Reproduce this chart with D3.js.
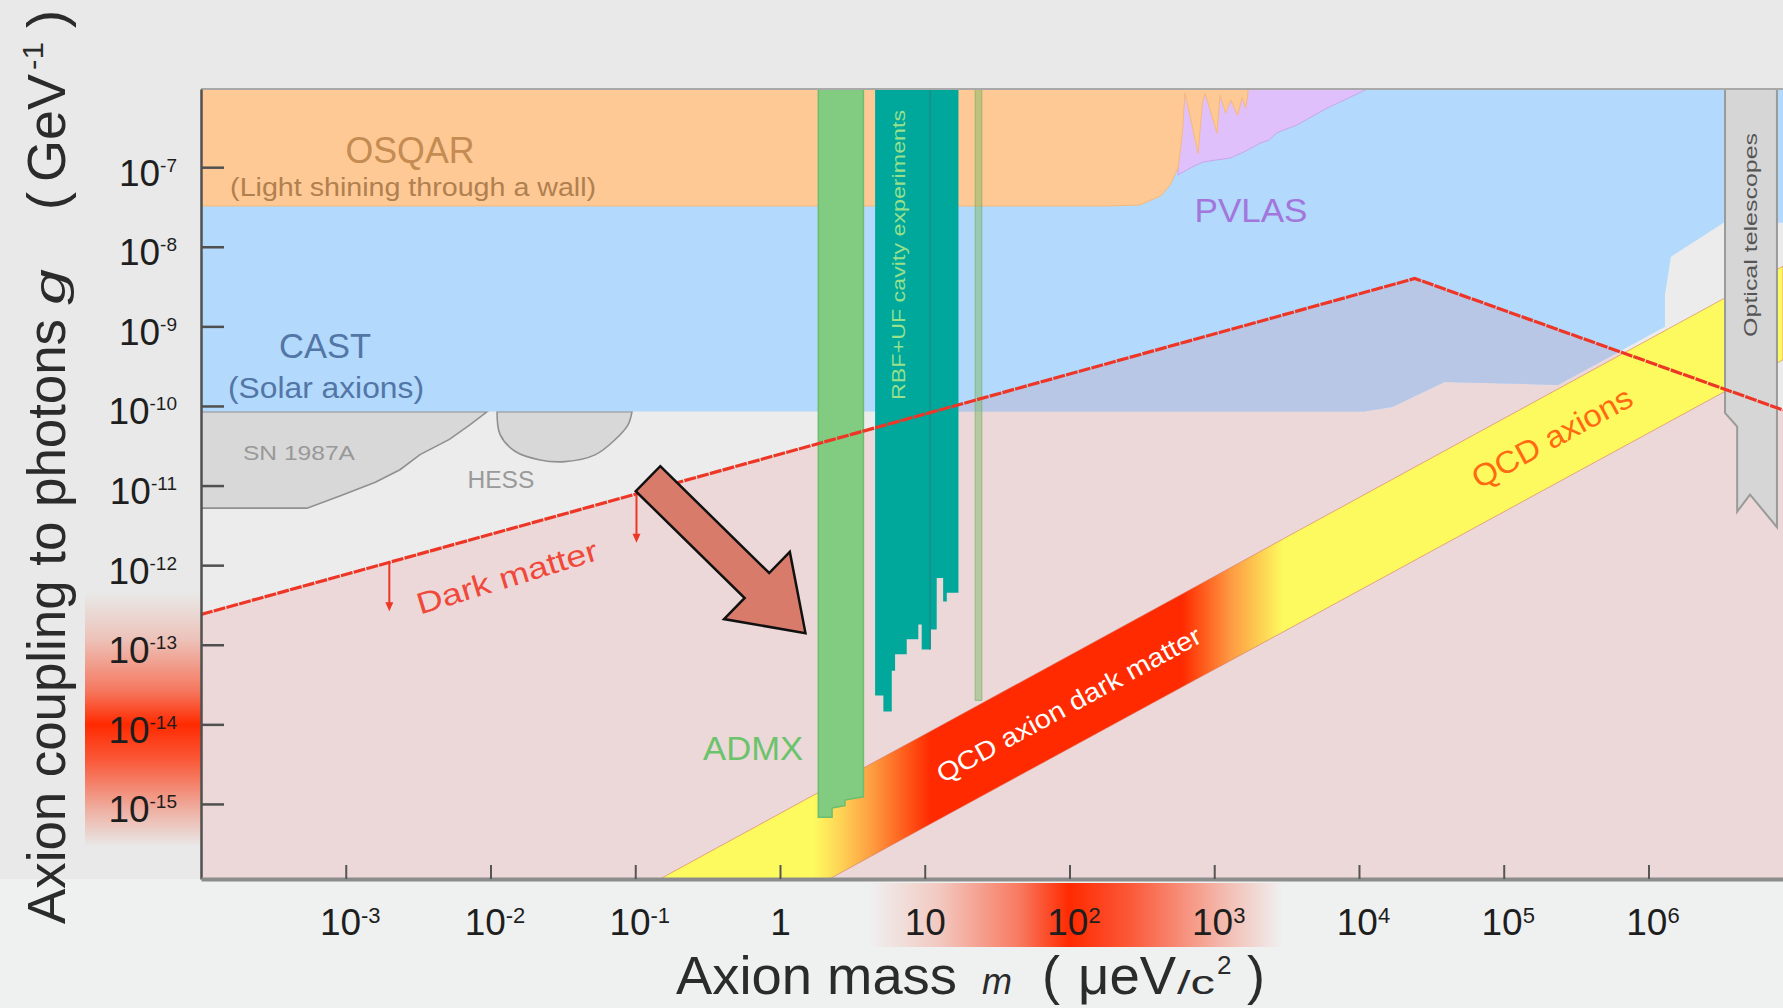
<!DOCTYPE html>
<html>
<head>
<meta charset="utf-8">
<title>Axion coupling to photons vs axion mass</title>
<script src="https://cdn.jsdelivr.net/npm/d3@7/dist/d3.min.js"></script>
<style>
  body { margin: 0; background: #e8e9e8; overflow: hidden; }
  svg { display: block; font-family: "Liberation Sans", Arial, Helvetica, sans-serif; }
</style>
</head>
<body>
<svg id="chart" width="1783" height="1008"></svg>
<script>
// ---- data (mass in ueV/c^2, coupling in GeV^-1) ----
var massDomain = [1e-4, 8.5e6];
var couplingDomain = [1.14e-16, 9.6e-7];

var massTicks = [1e-3, 1e-2, 1e-1, 1, 10, 1e2, 1e3, 1e4, 1e5, 1e6];
var massTickBase = ["10", "10", "10", "1", "10", "10", "10", "10", "10", "10"];
var massTickExp = ["-3", "-2", "-1", "", "", "2", "3", "4", "5", "6"];
var couplingTicks = [1e-7, 1e-8, 1e-9, 1e-10, 1e-11, 1e-12, 1e-13, 1e-14, 1e-15];
var couplingTickExp = ["-7", "-8", "-9", "-10", "-11", "-12", "-13", "-14", "-15"];

var darkMatterLine = [[1e-4, 2.4e-13], [2.43e4, 4.0e-9], [8.5e6, 8.9e-11]];
var darkMatterArrows = [2.0e-3, 0.102];

var osqar = [[1e-4, 1e-5], [1e-4, 3.26e-8], [190, 3.26e-8], [308, 3.36e-8], [430, 4.4e-8],
  [496, 6.0e-8], [562, 9.8e-8], [600, 2.5e-7], [628, 8.5e-7], [700, 3.5e-7], [773, 1.5e-7],
  [830, 6.5e-7], [864, 8.5e-7], [960, 4.5e-7], [1045, 2.7e-7], [1096, 8.0e-7], [1200, 4.8e-7],
  [1300, 7.0e-7], [1450, 4.5e-7], [1560, 7.5e-7], [1650, 5.5e-7], [1710, 8.5e-7], [1710, 1e-5]];
var pvlas = [[562, 1e-5], [562, 8.0e-8], [700, 1.0e-7], [837, 1.16e-7], [1000, 1.22e-7],
  [1286, 1.3e-7], [1600, 1.55e-7], [2073, 2.0e-7], [2400, 2.2e-7], [2700, 2.7e-7],
  [3735, 3.4e-7], [6000, 5.5e-7], [1.14e4, 9.6e-7], [1.14e4, 1e-5]];
var cast = [[1e-4, 1e-5], [1e7, 1e-5], [1e7, 2.0e-8], [3.3e6, 2.0e-8], [1.43e6, 7.5e-9],
  [1.3e6, 2.5e-9], [1.3e6, 9.9e-10], [2.37e5, 1.84e-10], [3.9e4, 2.0e-10], [1.7e4, 9.7e-11],
  [1.08e4, 8.5e-11], [1e-4, 8.5e-11]];
var sn1987a = [[1e-4, 8.5e-11], [1e-4, 5.2e-12], [5.4e-4, 5.2e-12], [9.1e-4, 7.4e-12],
  [1.6e-3, 1.1e-11], [2.37e-3, 1.58e-11], [3.26e-3, 2.45e-11], [5.2e-3, 3.8e-11],
  [7.2e-3, 5.8e-11], [9.5e-3, 8.5e-11]];
var hess = [[0.0111, 8.5e-11], [0.01164, 4.4e-11], [0.01477, 2.7e-11], [0.022, 2.1e-11],
  [0.0327, 2.0e-11], [0.0527, 2.43e-11], [0.0724, 3.76e-11], [0.0891, 5.8e-11], [0.095, 8.5e-11]];
var admx = [[1.84, 1e-5], [1.84, 6.8e-16], [2.29, 6.8e-16], [2.29, 8.9e-16], [2.81, 9.5e-16],
  [2.81, 1.12e-15], [3.77, 1.23e-15], [3.77, 1e-5]];
// cavity experiments: [mass from, mass to, lowest coupling reached]
var cavitySteps = [[4.54, 5.18, 2.3e-14], [5.18, 5.92, 1.45e-14], [5.92, 6.24, 4.7e-14],
  [6.24, 7.51, 7.6e-14], [7.51, 9.03, 1.17e-13], [9.03, 9.53, 1.8e-13], [9.53, 10.9, 8.7e-14],
  [10.9, 12.1, 1.55e-13], [12.1, 13.4, 6.9e-13], [13.4, 14.2, 3.5e-13], [14.2, 17.1, 4.5e-13]];
var cavitySplit = 10.9;
var cavityThin = [22.3, 24.8, 2.0e-14];
var qcdUpper = [[0.148, 1.14e-16], [8.5e6, 5.7e-9]];
var qcdLower = [[2.19, 1.14e-16], [8.5e6, 3.8e-10]];
var qcdStopMass = [1.7, 2.6, 4.2, 11, 600, 1300, 3000];
var qcdStopColor = ["#fdfa60", "#fed456", "#fda042", "#ff2a00", "#ff2a00", "#fd9a42", "#fdfa60"];
var telescopes = [[3.38e6, 1e-5], [3.38e6, 8.2e-11], [4.1e6, 5.5e-11], [4.1e6, 4.7e-12],
  [5.03e6, 7.7e-12], [7.72e6, 3.0e-12], [7.72e6, 1e-5]];
var bigArrow = [[0.1225, 1.22e-11], [1.50, 1.4e-13]];
var couplingGlow = [4.5e-13, 1e-14, 2.9e-16];
var massGlow = [4.05, 100, 2985];

// ---- scales ----
var svg = d3.select("#chart");
var pL = 201, pR = 1783, pT = 89, pB = 879;
var x = d3.scaleLog().domain(massDomain).range([pL, pR]);
var y = d3.scaleLog().domain(couplingDomain).range([pB, pT]);
var line = d3.line().x(function (d) { return x(d[0]); }).y(function (d) { return y(d[1]); });
function area(pts) { return line(pts) + "Z"; }

function dmAt(m) {
  var a = darkMatterLine[0], b = darkMatterLine[1];
  if (m > b[0]) { a = darkMatterLine[1]; b = darkMatterLine[2]; }
  var t = Math.log(m / a[0]) / Math.log(b[0] / a[0]);
  return Math.exp(Math.log(a[1]) + t * Math.log(b[1] / a[1]));
}

var defs = svg.append("defs");
defs.append("clipPath").attr("id", "plotClip").append("rect")
  .attr("x", pL).attr("y", pT).attr("width", pR - pL).attr("height", pB - pT);
var dmRegion = darkMatterLine.concat([[massDomain[1] * 2, 1e-18], [1e-5, 1e-18]]);
defs.append("clipPath").attr("id", "dmClip").append("path").attr("d", area(dmRegion));

// band gradient
var gx0 = x(qcdStopMass[0]), gx1 = x(qcdStopMass[qcdStopMass.length - 1]);
var qcdGrad = defs.append("linearGradient").attr("id", "qcdGrad")
  .attr("gradientUnits", "userSpaceOnUse")
  .attr("x1", gx0).attr("x2", gx1).attr("y1", 0).attr("y2", 0);
qcdStopMass.forEach(function (m, i) {
  qcdGrad.append("stop").attr("offset", (x(m) - gx0) / (gx1 - gx0)).attr("stop-color", qcdStopColor[i]);
});

function glowGradient(id, p0, peak, p1, vertical) {
  var g = defs.append("linearGradient").attr("id", id).attr("gradientUnits", "userSpaceOnUse");
  if (vertical) g.attr("x1", 0).attr("x2", 0).attr("y1", p0).attr("y2", p1);
  else g.attr("y1", 0).attr("y2", 0).attr("x1", p0).attr("x2", p1);
  var pk = (peak - p0) / (p1 - p0);
  [[0, 0], [pk * 0.35, 0.2], [pk * 0.75, 0.6], [pk, 1], [pk + (1 - pk) * 0.3, 0.75],
    [pk + (1 - pk) * 0.7, 0.3], [1, 0]].forEach(function (s) {
    g.append("stop").attr("offset", s[0]).attr("stop-color", "#ff2a00").attr("stop-opacity", s[1]);
  });
}
glowGradient("yGlow", y(couplingGlow[0]), y(couplingGlow[1]), y(couplingGlow[2]), true);
glowGradient("xGlow", x(massGlow[0]), x(massGlow[1]), x(massGlow[2]), false);

// ---- background ----
svg.append("rect").attr("width", 1783).attr("height", 1008).attr("fill", "#e8e9e8");
svg.append("rect").attr("y", pB).attr("width", 1783).attr("height", 1008 - pB).attr("fill", "#eff1f1");
svg.append("rect").attr("x", 85).attr("y", y(couplingGlow[0])).attr("width", pL - 85)
  .attr("height", y(couplingGlow[2]) - y(couplingGlow[0])).attr("fill", "url(#yGlow)");
svg.append("rect").attr("x", x(massGlow[0])).attr("y", pB + 4)
  .attr("width", x(massGlow[2]) - x(massGlow[0])).attr("height", 64).attr("fill", "url(#xGlow)");

// ---- regions ----
var plot = svg.append("g").attr("clip-path", "url(#plotClip)");
plot.append("rect").attr("x", pL).attr("y", pT).attr("width", pR - pL)
  .attr("height", pB - pT).attr("fill", "#ebeceb");
plot.append("path").attr("d", area(dmRegion)).attr("fill", "#ecd8d8");
plot.append("path").attr("d", area(sn1987a)).attr("fill", "#d8d8d8")
  .attr("stroke", "#909090").attr("stroke-width", 1.6);
plot.append("path").attr("d", d3.line().curve(d3.curveCatmullRom)
    .x(function (d) { return x(d[0]); }).y(function (d) { return y(d[1]); })(hess) + "Z")
  .attr("fill", "#d8d8d8").attr("stroke", "#909090").attr("stroke-width", 1.6);
plot.append("path").attr("d", area(cast)).attr("fill", "#b3d9fc");
plot.append("g").attr("clip-path", "url(#dmClip)")
  .append("path").attr("d", area(cast)).attr("fill", "#b9c7e6");
plot.append("path").attr("d", area(pvlas)).attr("fill", "#dfc0fb")
  .attr("stroke", "#c9a6ee").attr("stroke-width", 1);
plot.append("path").attr("d", area(osqar)).attr("fill", "#fec995")
  .attr("stroke", "#f8b878").attr("stroke-width", 1);

// QCD band
plot.append("path")
  .attr("d", area([qcdUpper[0], qcdUpper[1], qcdLower[1], qcdLower[0]]))
  .attr("fill", "url(#qcdGrad)").attr("stroke", "rgba(215,110,90,0.55)").attr("stroke-width", 1);

// haloscopes
plot.append("path").attr("d", area(admx)).attr("fill", "#82cc82")
  .attr("stroke", "#6cbd6c").attr("stroke-width", 1.5);
var cavity = [[cavitySteps[0][0], 1e-5]];
cavitySteps.forEach(function (s) { cavity.push([s[0], s[2]], [s[1], s[2]]); });
cavity.push([cavitySteps[cavitySteps.length - 1][1], 1e-5]);
plot.append("path").attr("d", area(cavity)).attr("fill", "#00a89b");
plot.append("line").attr("x1", x(cavitySplit)).attr("x2", x(cavitySplit))
  .attr("y1", pT).attr("y2", y(cavitySteps[6][2])).attr("stroke", "#1d8d86").attr("stroke-width", 1.5);
plot.append("rect").attr("x", x(cavityThin[0])).attr("y", pT)
  .attr("width", x(cavityThin[1]) - x(cavityThin[0])).attr("height", y(cavityThin[2]) - pT)
  .attr("fill", "rgba(120,185,95,0.45)").attr("stroke", "rgba(110,170,90,0.6)").attr("stroke-width", 1);

// optical telescopes strip
plot.append("path").attr("d", area(telescopes)).attr("fill", "#d6d6d6")
  .attr("stroke", "#9a9a9a").attr("stroke-width", 2);

// dark matter line + arrows
plot.append("path").attr("d", line(darkMatterLine)).attr("fill", "none")
  .attr("stroke", "#ee3626").attr("stroke-width", 3.2).attr("stroke-dasharray", "12,1.2");
darkMatterArrows.forEach(function (m) {
  var ax = x(m), a0 = y(dmAt(m)), a1 = y(dmAt(m) / 4);
  plot.append("line").attr("x1", ax).attr("x2", ax).attr("y1", a0).attr("y2", a1 - 6)
    .attr("stroke", "#ee3626").attr("stroke-width", 2);
  plot.append("path").attr("d", "M" + (ax - 4) + "," + (a1 - 8) + "L" + (ax + 4) + "," + (a1 - 8) + "L" + ax + "," + (a1 + 1) + "Z")
    .attr("fill", "#ee3626");
});

// ---- labels ----
var labels = svg.append("g");
function label(text, m, g, size, color, opts) {
  opts = opts || {};
  var t = labels.append("text").attr("text-anchor", "middle")
    .attr("transform", "translate(" + x(m) + "," + y(g) + ")" + (opts.rotate ? " rotate(" + opts.rotate + ")" : ""))
    .style("font-size", size + "px").attr("fill", color).text(text);
  if (opts.middle) t.attr("dominant-baseline", "central");
  if (opts.len) t.attr("textLength", opts.len).attr("lengthAdjust", "spacingAndGlyphs");
  return t;
}
label("OSQAR", 2.78e-3, 1.13e-7, 36, "#c48b52", {len: 129});
label("(Light shining through a wall)", 2.92e-3, 4.35e-8, 25, "#b0804f", {len: 366});
label("CAST", 7.2e-4, 4.0e-10, 35, "#5276a6", {len: 92});
label("(Solar axions)", 7.3e-4, 1.26e-10, 29, "#5276a6", {len: 196});
label("PVLAS", 1795, 2.05e-8, 34, "#a276dc", {len: 113});
label("ADMX", 0.652, 3.6e-15, 34, "#6bc36b", {len: 100});
label("SN 1987A", 4.75e-4, 2.1e-11, 21, "#999999", {len: 112});
label("HESS", 0.0118, 9.4e-12, 23, "#9a9a9a", {len: 67});
label("Dark matter", 0.013, 7.1e-13, 30, "#f0483a", {rotate: -17, middle: true, len: 188});
label("QCD axion dark matter", 99, 1.77e-14, 26, "#ffffff", {rotate: -28.6, middle: true, len: 297});
label("QCD axions", 2.16e5, 4.0e-11, 31, "#ff6a10", {rotate: -28.6, middle: true, len: 178});
label("Optical telescopes", 5.1e6, 1.41e-8, 19, "#555555", {rotate: -90, middle: true, len: 204});
label("RBF+UF cavity experiments", 6.64, 7.9e-9, 18, "#98e08c", {rotate: -90, middle: true, len: 290});

// big annotation arrow
(function () {
  var ax0 = x(bigArrow[0][0]), ay0 = y(bigArrow[0][1]);
  var ax1 = x(bigArrow[1][0]), ay1 = y(bigArrow[1][1]);
  var len = Math.hypot(ax1 - ax0, ay1 - ay0);
  var ang = Math.atan2(ay1 - ay0, ax1 - ax0) * 180 / Math.PI;
  var sw = 17.5, hw = 47, hl = 68;
  var pts = [[0, -sw], [len - hl, -sw], [len - hl, -hw], [len, 0], [len - hl, hw], [len - hl, sw], [0, sw]];
  svg.append("path").attr("d", "M" + pts.join("L") + "Z")
    .attr("transform", "translate(" + ax0 + "," + ay0 + ") rotate(" + ang + ")")
    .attr("fill", "#d97b6a").attr("stroke", "#111").attr("stroke-width", 2.5).attr("stroke-linejoin", "miter");
})();

// ---- axes ----
svg.append("line").attr("x1", pL).attr("x2", pR).attr("y1", pT).attr("y2", pT)
  .attr("stroke", "#a9a9a9").attr("stroke-width", 2);

var yAxis = svg.append("g").attr("transform", "translate(" + pL + ",0)")
  .call(d3.axisLeft(y).tickValues(couplingTicks).tickSizeInner(-23).tickSizeOuter(0).tickFormat(""));
yAxis.select(".domain").attr("stroke", "#505050").attr("stroke-width", 2.5);
yAxis.selectAll(".tick line").attr("stroke", "#505050").attr("stroke-width", 2.5);
yAxis.selectAll(".tick text").remove();
yAxis.selectAll(".tick").each(function (d, i) {
  var t = d3.select(this).append("text").attr("x", -24).attr("y", 18).attr("text-anchor", "end")
    .attr("fill", "#1e1e1e").style("font-size", "37px")
    .style("font-family", "'Liberation Sans', Arial, sans-serif");
  t.append("tspan").text("10");
  t.append("tspan").attr("dy", -14).style("font-size", "19px").text(couplingTickExp[i]);
});

var xAxis = svg.append("g").attr("transform", "translate(0," + pB + ")")
  .call(d3.axisBottom(x).tickValues(massTicks).tickSizeInner(-14).tickSizeOuter(0).tickFormat(""));
xAxis.select(".domain").attr("stroke", "#8c8c8c").attr("stroke-width", 4);
xAxis.selectAll(".tick line").attr("stroke", "#555").attr("stroke-width", 2);
xAxis.selectAll(".tick text").remove();
xAxis.selectAll(".tick").each(function (d, i) {
  var t = d3.select(this).append("text").attr("x", massTickExp[i] ? 4 : 0).attr("y", 56)
    .attr("text-anchor", "middle").attr("fill", "#1e1e1e").style("font-size", "37px")
    .style("font-family", "'Liberation Sans', Arial, sans-serif");
  t.append("tspan").text(massTickBase[i]);
  if (massTickExp[i]) t.append("tspan").attr("dy", -12).style("font-size", "22px").text(massTickExp[i]);
});

// ---- axis titles ----
var titleColor = "#2b2b2b";
function piece(parent, text, pos, size, opts) {
  opts = opts || {};
  var t = parent.append("text").attr("x", pos).attr("y", opts.dy || 0)
    .style("font-size", size + "px").attr("fill", titleColor).text(text);
  if (opts.italic) t.style("font-style", "italic");
  if (opts.len) t.attr("textLength", opts.len).attr("lengthAdjust", "spacingAndGlyphs");
  return t;
}
var xt = svg.append("g").attr("transform", "translate(0,994)");
piece(xt, "Axion mass", 676, 54, {len: 281});
piece(xt, "m", 982, 36, {italic: true, len: 30});
piece(xt, "(", 1042, 54);
piece(xt, "\u03bceV", 1078, 54, {len: 98});
piece(xt, "/c", 1177, 34, {len: 38});
piece(xt, "2", 1217, 26, {dy: -20});
piece(xt, ")", 1247, 54);

var yt = svg.append("g").attr("transform", "translate(65,1008) rotate(-90)");
piece(yt, "Axion coupling to photons", 1008 - 924, 54, {len: 605});
piece(yt, "g", 1008 - 305, 44, {italic: true, len: 36});
piece(yt, "(", 1008 - 210, 54);
piece(yt, "GeV", 1008 - 182, 54, {len: 108});
piece(yt, "-1", 1008 - 70, 30, {dy: -22, len: 28});
piece(yt, ")", 1008 - 28, 54);
</script>
</body>
</html>
